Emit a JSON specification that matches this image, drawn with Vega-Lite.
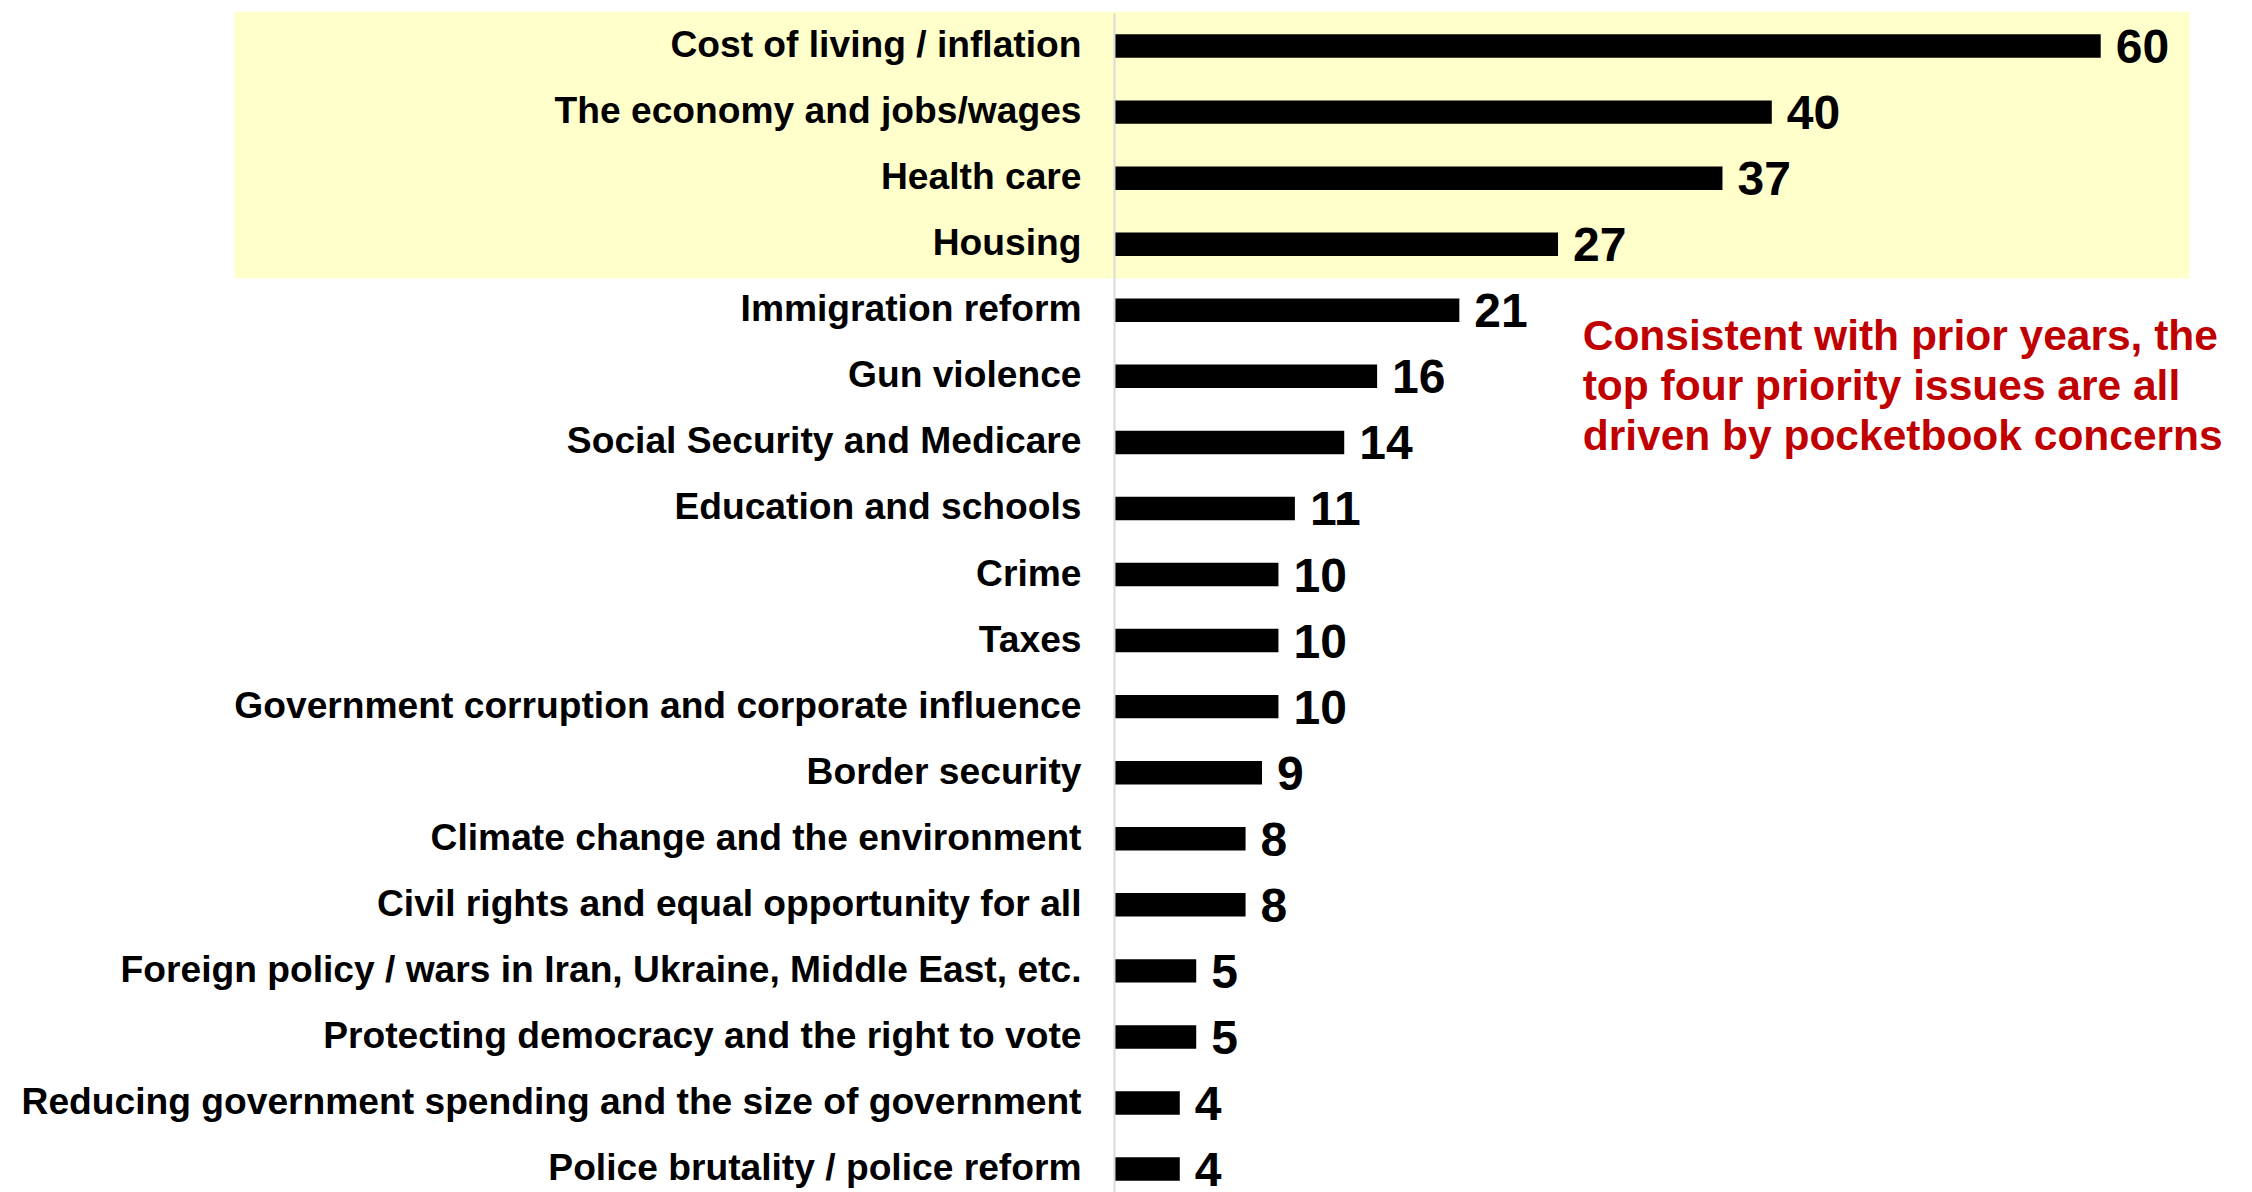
{
  "$schema": "https://vega.github.io/schema/vega-lite/v6.json",
  "autosize": "none",
  "width": 1138,
  "height": 1179,
  "padding": {"left": 1114, "top": 13, "right": 0, "bottom": 0},
  "background": "white",
  "config": {"view": {"stroke": null}, "font": "Liberation Sans"},
  "data": {"values": [
    {"kind": "bar", "issue": "Cost of living / inflation", "pct": 60},
    {"kind": "bar", "issue": "The economy and jobs/wages", "pct": 40},
    {"kind": "bar", "issue": "Health care", "pct": 37},
    {"kind": "bar", "issue": "Housing", "pct": 27},
    {"kind": "bar", "issue": "Immigration reform", "pct": 21},
    {"kind": "bar", "issue": "Gun violence", "pct": 16},
    {"kind": "bar", "issue": "Social Security and Medicare", "pct": 14},
    {"kind": "bar", "issue": "Education and schools", "pct": 11},
    {"kind": "bar", "issue": "Crime", "pct": 10},
    {"kind": "bar", "issue": "Taxes", "pct": 10},
    {"kind": "bar", "issue": "Government corruption and corporate influence", "pct": 10},
    {"kind": "bar", "issue": "Border security", "pct": 9},
    {"kind": "bar", "issue": "Climate change and the environment", "pct": 8},
    {"kind": "bar", "issue": "Civil rights and equal opportunity for all", "pct": 8},
    {"kind": "bar", "issue": "Foreign policy / wars in Iran, Ukraine, Middle East, etc.", "pct": 5},
    {"kind": "bar", "issue": "Protecting democracy and the right to vote", "pct": 5},
    {"kind": "bar", "issue": "Reducing government spending and the size of government", "pct": 4},
    {"kind": "bar", "issue": "Police brutality / police reform", "pct": 4},
    {"kind": "highlight", "issue": "Cost of living / inflation", "x0": -53.5, "x1": 65.4},
    {"kind": "highlight", "issue": "The economy and jobs/wages", "x0": -53.5, "x1": 65.4},
    {"kind": "highlight", "issue": "Health care", "x0": -53.5, "x1": 65.4},
    {"kind": "highlight", "issue": "Housing", "x0": -53.5, "x1": 65.4},
    {"kind": "note", "issue": "Gun violence", "x0": 28.5, "note": "Consistent with prior years, the\ntop four priority issues are all\ndriven by pocketbook concerns"}
  ]},
  "encoding": {
    "y": {
      "field": "issue", "type": "nominal", "title": null, "sort": null,
      "scale": {"paddingInner": 0.645, "paddingOuter": 0.2465, "align": 0.655},
      "axis": {"domainColor": "#d9d9d9", "domainWidth": 2, "ticks": false, "labelFontSize": 37.2, "labelFontWeight": "bold", "labelColor": "#000000", "labelPadding": 33, "labelLimit": 1200}
    }
  },
  "layer": [
    {
      "transform": [{"filter": "datum.kind === 'highlight'"}],
      "mark": {"type": "rect", "color": "#FFFFCC", "height": 68.5},
      "encoding": {
        "x": {"field": "x0", "type": "quantitative", "scale": {"domain": [0, 69.2], "nice": false, "zero": false}, "axis": null},
        "x2": {"field": "x1"}
      }
    },
    {
      "transform": [{"filter": "datum.kind === 'bar'"}],
      "mark": {"type": "bar", "color": "#000000"},
      "encoding": {
        "x": {"field": "pct", "type": "quantitative"}
      }
    },
    {
      "transform": [{"filter": "datum.kind === 'bar'"}],
      "mark": {"type": "text", "align": "left", "baseline": "middle", "dx": 15, "dy": 3, "fontSize": 48, "fontWeight": "bold", "color": "#000000"},
      "encoding": {
        "x": {"field": "pct", "type": "quantitative"},
        "text": {"field": "pct", "type": "quantitative"}
      }
    },
    {
      "transform": [{"filter": "datum.kind === 'note'"}],
      "mark": {"type": "text", "align": "left", "baseline": "middle", "lineBreak": "\n", "lineHeight": 50, "fontSize": 42.5, "fontWeight": "bold", "color": "#C00000", "dy": -39},
      "encoding": {
        "x": {"field": "x0", "type": "quantitative"},
        "text": {"field": "note", "type": "nominal"}
      }
    }
  ]
}
